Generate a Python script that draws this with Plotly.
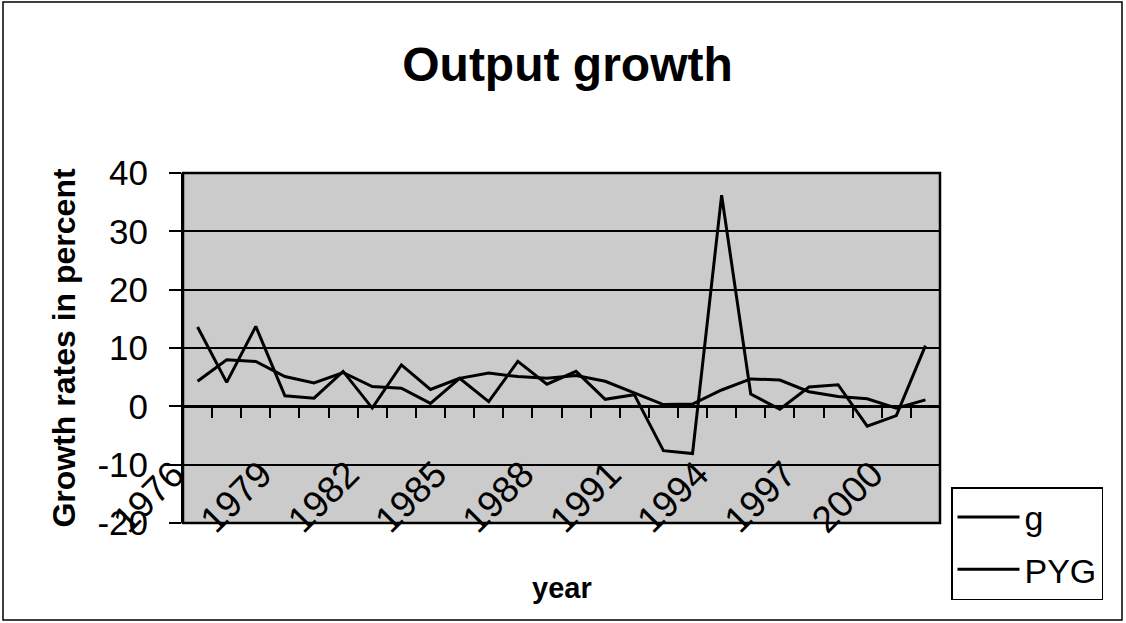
import plotly.graph_objects as go

# ---- data ----
years = list(range(1976, 2002))
g = [13.6, 4.1, 13.7, 1.8, 1.4, 6.0, -0.3, 7.1, 2.9, 4.8, 0.8, 7.7, 3.8, 6.0,
     1.2, 2.0, -7.6, -8.1, 36.2, 2.1, -0.5, 3.3, 3.7, -3.4, -1.6, 10.4]
pyg = [4.3, 8.0, 7.7, 5.1, 4.0, 5.8, 3.4, 3.1, 0.5, 4.8, 5.7, 5.1, 4.8, 5.3,
       4.3, 2.3, 0.3, 0.4, 2.8, 4.7, 4.5, 2.5, 1.7, 1.3, -0.3, 1.1]
label_years = [1976, 1979, 1982, 1985, 1988, 1991, 1994, 1997, 2000]
label_text = [str(y) for y in label_years]
boundary_ticks = [y + 0.5 for y in years[:-1]]
y_ticks = [-20, -10, 0, 10, 20, 30, 40]
y_tick_text = ["-20", "-10", "0", "10", "20", "30", "40"]

FONT = "Arial, Liberation Sans, sans-serif"
W, H = 1126, 623
ML, MR, MT, MB = 183, 186, 173, 100
PW, PH = W - ML - MR, H - MT - MB
xr = [years[0] - 0.5, years[-1] + 0.5]


def px_x(px):
    return (px - ML) / PW


def px_y(py):
    return (H - MB - py) / PH


fig = go.Figure()
fig.add_trace(go.Scatter(x=years, y=g, name="g", mode="lines",
                         line=dict(color="black", width=3),
                         xaxis="x2", yaxis="y", legendgroup="a"))
fig.add_trace(go.Scatter(x=years, y=pyg, name="PYG", mode="lines",
                         line=dict(color="black", width=3),
                         xaxis="x", yaxis="y", legendgroup="b"))

fig.update_layout(
    width=W, height=H,
    margin=dict(l=ML, r=MR, t=MT, b=MB, autoexpand=False),
    paper_bgcolor="white",
    plot_bgcolor="#cbcbcb",
    font=dict(family=FONT, color="black"),
    title=dict(text="<b>Output growth</b>", x=0.504, xanchor="center",
               y=1 - 64 / H, yanchor="middle", yref="container",
               font=dict(size=48, family=FONT, color="black")),
    xaxis=dict(range=xr, anchor="free", position=px_y(444),
               tickmode="array", tickvals=label_years, ticktext=label_text,
               tickangle=-45, ticks="", showline=False, showgrid=False,
               zeroline=False, tickfont=dict(size=37, family=FONT),
               ticklabelshift=-24, automargin=False),
    xaxis2=dict(range=xr, overlaying="x", anchor="free", position=px_y(406.5),
                side="bottom", tickmode="array", tickvals=boundary_ticks,
                ticks="outside", ticklen=10, tickwidth=1.5, tickcolor="black",
                showticklabels=False, showline=True, linecolor="black",
                linewidth=2, showgrid=False, zeroline=False),
    yaxis=dict(range=[-20, 40], tickmode="array", tickvals=y_ticks,
               ticktext=y_tick_text,
               ticks="outside", ticklen=12, tickwidth=1.5, tickcolor="black",
               showline=True, linecolor="black", linewidth=2,
               showgrid=True, gridcolor="black", gridwidth=1.5,
               zeroline=True, zerolinecolor="black", zerolinewidth=2.5,
               tickfont=dict(size=35, family=FONT), ticklabelstandoff=14,
               title=dict(text="<b>Growth rates in percent</b>",
                          font=dict(size=32, family=FONT), standoff=12),
               automargin=False),
    legend=dict(x=px_x(951), xanchor="left", y=px_y(487), yanchor="top",
                bgcolor="white", bordercolor="black", borderwidth=1.5,
                font=dict(size=34, family=FONT), itemwidth=62,
                tracegroupgap=5, entrywidth=100, entrywidthmode="pixels"),
    showlegend=True,
)

# x-axis title
fig.add_annotation(text="<b>year</b>", xref="paper", yref="paper",
                   x=0.5, y=px_y(588), xanchor="center", yanchor="middle",
                   showarrow=False, font=dict(size=29, family=FONT))

# plot-area frame and outer chart border
fig.add_shape(type="rect", xref="paper", yref="paper", x0=0, x1=1, y0=0, y1=1,
              line=dict(color="black", width=2.5), layer="above")
fig.add_shape(type="rect", xref="paper", yref="paper",
              x0=px_x(3), x1=px_x(1122), y0=px_y(620), y1=px_y(2),
              line=dict(color="black", width=1.5), layer="above")

fig.write_html("out.html", config={"displayModeBar": False},
               post_script="document.body.style.margin='0px';"
                           "document.body.style.overflow='hidden';")
